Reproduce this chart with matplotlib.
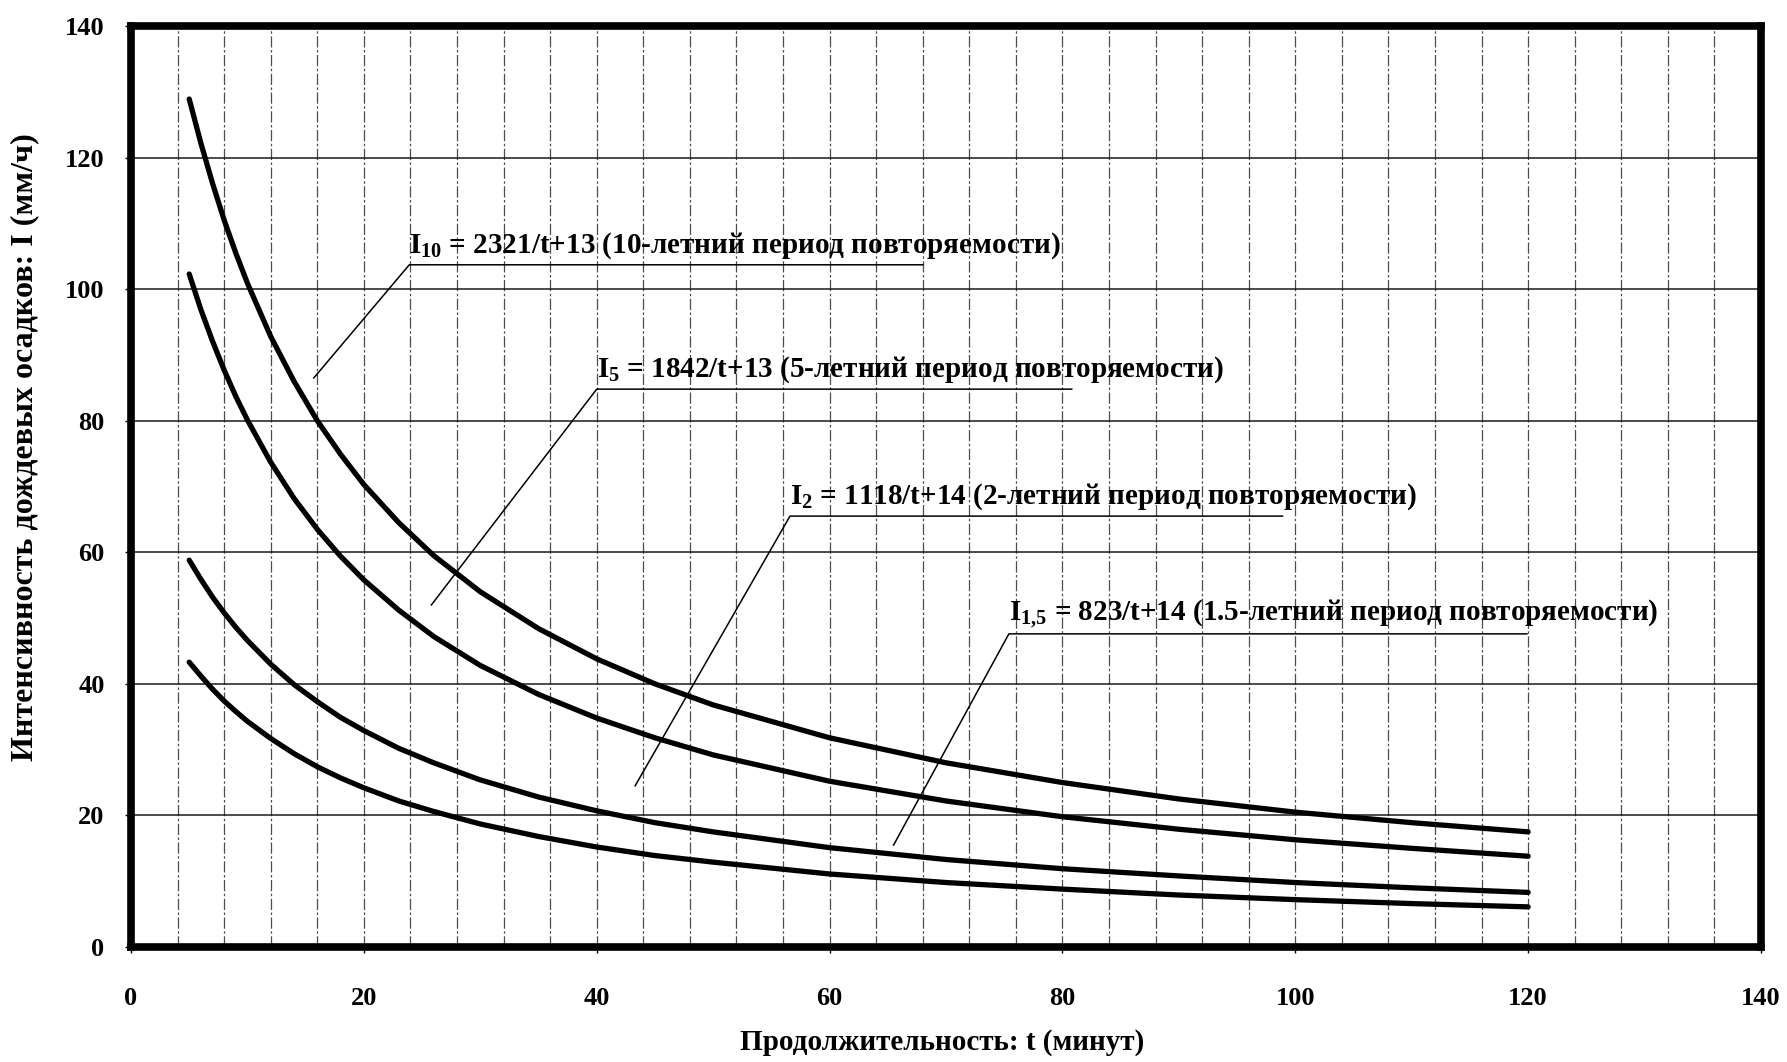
import numpy as np
import matplotlib
matplotlib.use('Agg')
import matplotlib.pyplot as plt

t = [5, 6, 7, 8, 9, 10, 12, 14, 16, 18, 20, 23, 26, 30, 35, 40, 45, 50,
     60, 70, 80, 90, 100, 110, 120]

# rain intensity I (mm/h) for the four return periods
I10 = [128.9, 122.2, 116.1, 110.5, 105.5, 100.9, 92.8, 86.0, 80.0, 74.9, 70.3,
       64.5, 59.5, 54.0, 48.4, 43.8, 40.0, 36.8, 31.8, 28.0, 25.0, 22.5, 20.5,
       18.9, 17.5]
I5 = [102.3, 96.9, 92.1, 87.7, 83.7, 80.1, 73.7, 68.2, 63.5, 59.4, 55.8,
      51.2, 47.2, 42.8, 38.4, 34.8, 31.8, 29.2, 25.2, 22.2, 19.8, 17.9, 16.3,
      15.0, 13.8]
I2 = [58.8, 55.9, 53.2, 50.8, 48.6, 46.6, 43.0, 39.9, 37.3, 34.9, 32.9,
      30.2, 28.0, 25.4, 22.8, 20.7, 18.9, 17.5, 15.1, 13.3, 11.9, 10.8, 9.8,
      9.0, 8.3]
I15 = [43.3, 41.2, 39.2, 37.4, 35.8, 34.3, 31.7, 29.4, 27.4, 25.7, 24.2,
       22.2, 20.6, 18.7, 16.8, 15.2, 13.9, 12.9, 11.1, 9.8, 8.8, 7.9, 7.2,
       6.6, 6.1]

# callout texts
labels = [r'$\mathrm{I}_{10}$ = 2321/t+13 (10-летний период повторяемости)',
          r'$\mathrm{I}_{5}$ = 1842/t+13 (5-летний период повторяемости)',
          r'$\mathrm{I}_{2}$ = 1118/t+14 (2-летний период повторяемости)',
          r'$\mathrm{I}_{1{,}5}$ = 823/t+14 (1.5-летний период повторяемости)']
# underline start x, underline end x, underline y, pointer tip x, pointer tip y
callouts = [[23.9, 68.0, 103.7, 15.7, 86.5],
            [40.0, 80.8, 84.8, 25.8, 52.0],
            [56.6, 98.9, 65.5, 43.3, 24.5],
            [75.4, 119.9, 47.6, 65.5, 15.5]]

plt.rcParams['font.family'] = ['Liberation Serif', 'DejaVu Serif']
plt.rcParams['font.weight'] = 'bold'
plt.rcParams['mathtext.fontset'] = 'custom'
plt.rcParams['mathtext.rm'] = 'Liberation Serif:bold'
plt.rcParams['mathtext.it'] = 'Liberation Serif:bold'
plt.rcParams['mathtext.bf'] = 'Liberation Serif:bold'

fig = plt.figure(figsize=(17.87, 10.62), dpi=100)
ax = fig.add_axes([131/1787, 1 - 947/1062, 1630/1787, 921/1062])

# grid: vertical every 4 minutes, horizontal every 20 mm/h
for x in np.arange(4, 140, 4):
    ax.axvline(x, color='0.3', lw=0.9, ls=(0, (9, 2, 2, 2)), zorder=1)
for y in np.arange(20, 140, 20):
    ax.axhline(y, color='0.1', lw=1.1, zorder=1)

for series in [I10, I5, I2, I15]:
    ax.plot(t, series, color='k', lw=3.8, solid_capstyle='round', zorder=3)

for text, (x0, x1, yl, xt, yt) in zip(labels, callouts):
    ax.plot([xt, x0, x1], [yt, yl, yl], color='k', lw=1.1, zorder=2)
    ax.text(x0, yl + 0.6, text, fontsize=21, fontweight='bold',
            ha='left', va='bottom', zorder=4)

ax.set_xlim(0, 140)
ax.set_ylim(0, 140)
ax.set_xticks(np.arange(0, 141, 20))
ax.set_yticks(np.arange(0, 141, 20))
ax.tick_params(axis='both', direction='out', length=4, width=1, labelsize=19)
ax.tick_params(axis='x', pad=25)
ax.tick_params(axis='y', pad=15)
for lab in ax.get_xticklabels() + ax.get_yticklabels():
    lab.set_fontweight('bold')
for sp in ax.spines.values():
    sp.set_linewidth(5.5)
    sp.set_zorder(5)

fig.text(942/1787, 1 - 1043/1062, 'Продолжительность: t (минут)',
         fontsize=21, fontweight='bold', ha='center', va='center')
fig.text(25/1787, 1 - 447/1062, 'Интенсивность дождевых осадков: I (мм/ч)',
         fontsize=23, fontweight='bold', rotation=90, ha='center', va='center')

fig.savefig('out.png', dpi=100)
